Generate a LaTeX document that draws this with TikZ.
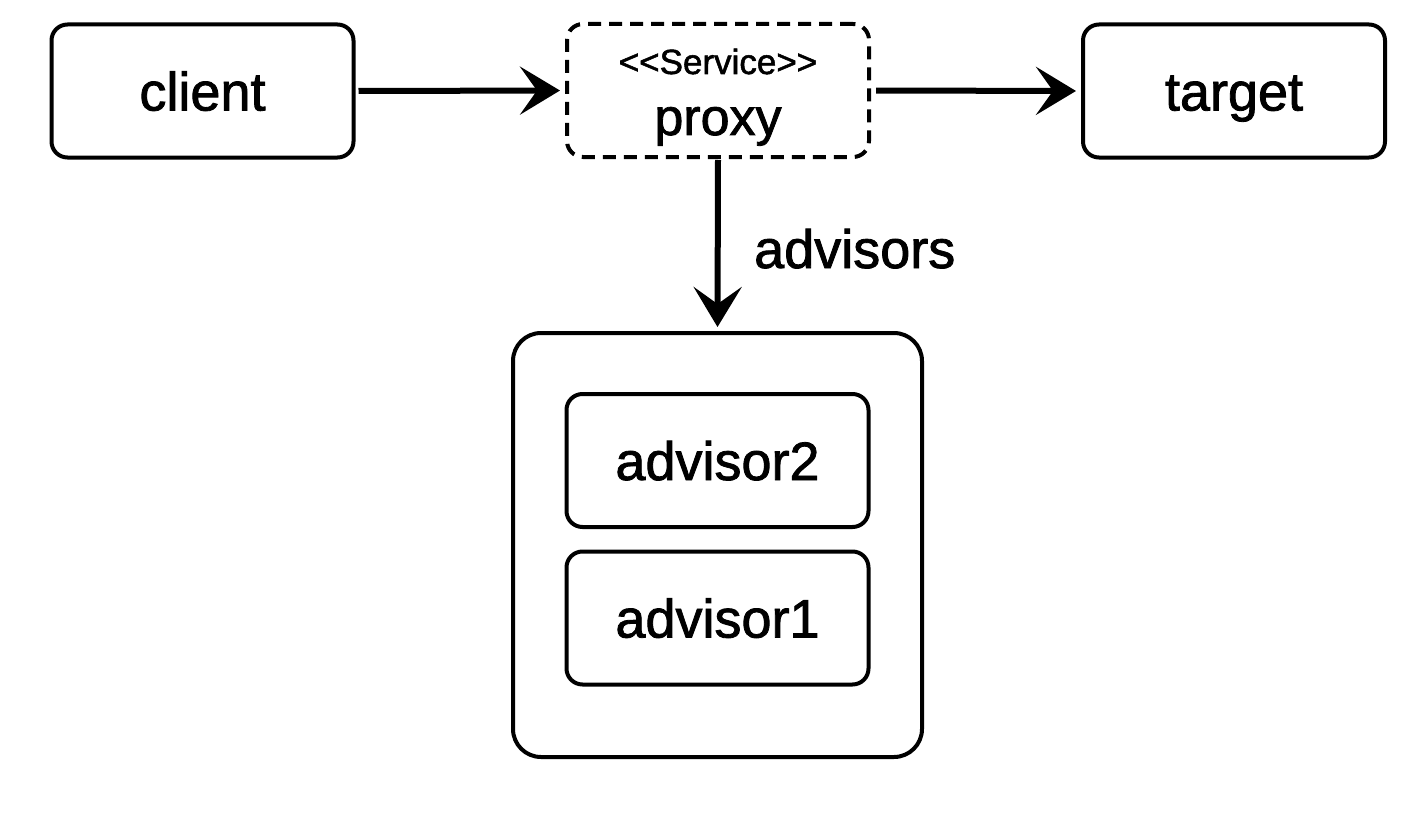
\documentclass[tikz,border=0pt]{standalone}
\usepackage{fontspec}
\setmainfont{Liberation Sans}[FakeBold=1.5]
\usetikzlibrary{arrows.meta}
\begin{document}
\begin{tikzpicture}[x=1pt,y=-1pt,
  box/.style={draw=black,line width=4pt,rounded corners=16pt,fill=white,
    minimum width=302pt,minimum height=133pt,inner sep=0pt,
    font=\fontsize{54}{60}\selectfont,text height=39pt,text depth=0pt},
  dashbox/.style={box,dash pattern=on 13pt off 8pt,line cap=butt},
  container/.style={draw=black,line width=4pt,rounded corners=28pt,
    minimum width=409pt,minimum height=424pt,inner sep=0pt},
  conn/.style={draw=black,line width=6pt,
    -{Stealth[length=40pt,width=48pt,inset=17pt]}},
  lbl/.style={font=\fontsize{54}{60}\selectfont,inner sep=0pt}
]
\useasboundingbox (0,0) rectangle (1428,816);
\node[box] (client) at (202.5,91) {client};
\node[dashbox] (proxy) at (718,90.5) {};
\node[lbl,anchor=base,font=\fontsize{35}{40}\selectfont] (svc) at (718,74) {<\kern0pt<Service>\kern0pt>};
\node[lbl,anchor=base,font=\fontsize{52}{58}\selectfont] (proxytxt) at (718,135) {proxy};
\node[box] (target) at (1234,91) {target};
\node[container] (group) at (717.5,545) {};
\node[box] (adv2) at (717.5,460.5) {advisor2};
\node[box] (adv1) at (717.5,618) {advisor1};
\node[lbl,anchor=base west] (advlbl) at (754,268) {advisors};
\draw[conn,shorten <=3pt,shorten >=5pt] (client.east) -- (proxy.west);
\draw[conn,shorten <=5pt,shorten >=5pt] (proxy.east) -- (target.west);
\draw[conn,shorten <=1pt,shorten >=4pt] (proxy.south) -- (group.north);
\end{tikzpicture}
\end{document}
